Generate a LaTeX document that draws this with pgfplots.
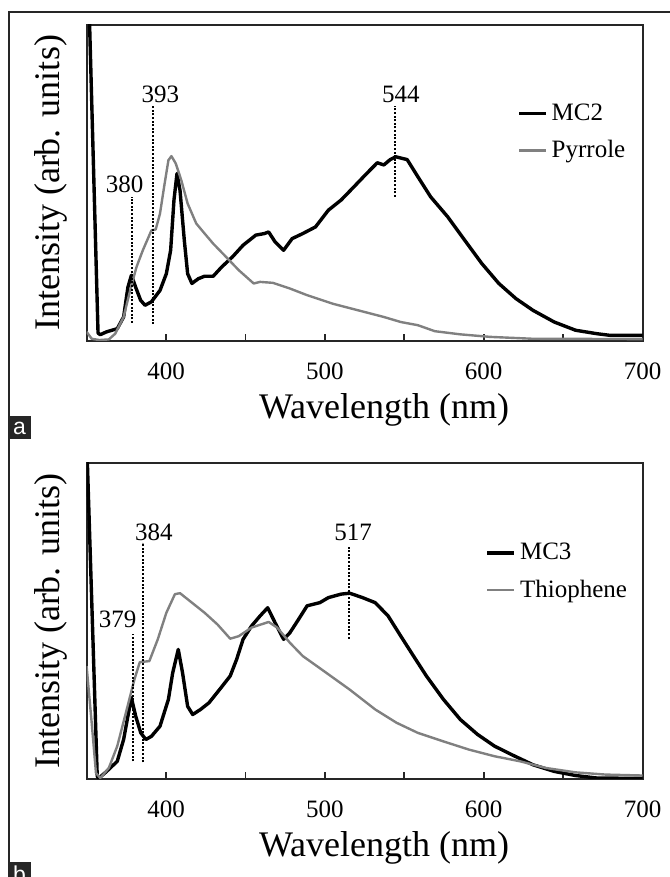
\documentclass[border=0pt]{standalone}
\usepackage{fontspec}
\setmainfont{Liberation Serif}
\newfontfamily\panelfont{Liberation Sans}
\usepackage{pgfplots}
\pgfplotsset{compat=1.18}
\definecolor{SGray}{HTML}{808080}
\definecolor{FrameC}{HTML}{262626}

\tikzset{annot/.style={font=\fontsize{12.5}{14}\selectfont}}
\pgfplotsset{
  spec/.style={
    scale only axis,
    width=278pt,height=158pt,
    xmin=350,xmax=700,ymin=0,ymax=100,
    axis line style={FrameC,line width=1pt},
    xtick={400,500,600,700},
    minor xtick={450,550,650},
    xtick pos=bottom,
    tick align=inside,
    major tick length=3.5pt,minor tick length=3.5pt,
    tick style={FrameC,line width=0.9pt},
    ytick=\empty,
    /pgf/number format/assume math mode=true,
    xticklabel style={font=\fontsize{12.5}{14}\selectfont,yshift=-7.5pt},
    xlabel={Wavelength (nm)},
    ylabel={Intensity (arb. units)},
    xlabel style={font=\fontsize{18}{20}\selectfont,at={(axis description cs:0.535,0)},anchor=center,yshift=-34.5pt},
    ylabel style={font=\fontsize{18}{20}\selectfont,at={(axis description cs:-0.064,0.5)},anchor=center},
    legend style={draw=none,fill=none,font=\fontsize{12.5}{14}\selectfont,
      row sep=4.5pt,inner sep=0pt},
    legend cell align=left,
    legend image code/.code={\draw[#1] (0pt,0pt) -- (13.5pt,0pt);},
    clip=true,
  },
  blk/.style={black,line width=1.7pt,line join=round},
  gry/.style={SGray,line width=1.2pt,line join=round},
  mark line/.style={black,line width=1pt,dash pattern=on 1pt off 0.8pt,forget plot},
}

\begin{document}
\begin{tikzpicture}
\useasboundingbox (0,0) rectangle (334.5pt,438.5pt);
% outer frame
\draw[FrameC,line width=1.3pt] (4.5pt,0pt) -- (4.5pt,432.5pt) -- (335pt,432.5pt);

% ---------- panel a ----------
\begin{axis}[spec,at={(43.3pt,268pt)},anchor=south west,
  legend style={at={(rel axis cs:0.774,0.765)},anchor=north west}]
\addplot[blk] coordinates {
(350.2,125)(351.9,100)(357.2,2.5)(358.6,2)(362.6,2.9)(369.3,3.9)(373.3,7.6)
(376,17)(378.2,20.8)(380.9,17)(384,12.9)(386.8,11.3)(390.8,12.4)(396.2,16)
(400.2,21.3)(402.9,28.7)(405,44.6)(406.9,53)(408.8,47.7)(411.5,31.9)(413.6,21.3)
(416.3,18.2)(420.3,19.7)(424.3,20.5)(429.7,20.5)(435,23.4)(441.8,26.6)(448.5,30.3)
(456.5,33.5)(461.9,34)(464.6,34.5)(468.6,31.4)(474,28.7)(479.4,32.4)(486.1,34)
(494.1,36.1)(502.2,41.4)(510.2,44.6)(518.3,48.8)(526.3,53)(533,56.4)(537.1,55.7)
(541.1,57.4)(544.6,58.3)(551.8,57.4)(558.5,52)(566.6,45.6)(577.3,39.3)(588,31.9)
(598.8,24.5)(609.5,18.2)(620.3,13.4)(631,9.7)(644.4,6)(657.8,3.4)(671.3,2.3)
(679.3,1.8)(700,1.8)};
\addlegendentry{MC2}
\addplot[gry] coordinates {
(350,2.9)(353.2,0.7)(358,0.3)(364,0.5)(368,2.3)(373.3,7.6)(377.4,16)(381.4,23.4)
(385.4,28.7)(390.8,35)(393.5,35.3)(396.2,40.3)(398.8,48.8)(401.5,57.2)(403.4,58.5)
(406.1,56.2)(409.6,50.9)(413.6,43.5)(419,37.2)(424.3,34)(429.7,30.8)(437.8,26.6)
(445.8,22.4)(455.2,18.2)(459.2,18.7)(467.3,18.4)(478,16.6)(488.8,14.5)(504.9,11.8)
(521,9.7)(537.1,7.6)(547.8,6)(558.5,5)(569.2,3.1)(585.3,2.1)(604.1,1.3)(631,0.7)
(700,0.6)};
\addlegendentry{Pyrrole}
\addplot[mark line] coordinates {(378.7,5.7)(378.7,45.6)};
\addplot[mark line] coordinates {(391.6,5.3)(391.6,74.3)};
\addplot[mark line] coordinates {(544.3,45.6)(544.3,74.3)};
\node[annot] at (axis cs:373.9,49.5) {380};
\node[annot] at (axis cs:396.4,78) {393};
\node[annot] at (axis cs:547.8,78) {544};
\end{axis}

% ---------- panel b ----------
\begin{axis}[spec,at={(43.3pt,49pt)},anchor=south west,
  legend style={at={(rel axis cs:0.717,0.76)},anchor=north west}]
\addplot[blk] coordinates {
(350.2,102)(350.5,100)(356.7,0.8)(357.8,0.3)(362.6,2.4)(369.3,5.6)(373.3,12.5)
(376,19.9)(378.2,25.7)(380.9,19.9)(384.1,14.6)(387.3,12.5)(390.8,13.5)(396.2,16.7)
(401.5,25.2)(404.2,33.6)(407.7,41)(410.4,33.6)(413.6,23)(416.8,20.4)(421.7,22)
(427,24.1)(433.7,28.3)(440.4,32.6)(444.4,37.8)(448.5,44.2)(453.8,48.4)(459.2,51.6)
(464,54.2)(468.6,49.5)(474,44.2)(478,46.3)(483.4,50.5)(488.8,54.8)(496.8,55.8)
(502.2,57.4)(510.2,58.5)(515.6,58.8)(523.7,57.4)(531.7,55.8)(539.8,51.6)(547.8,45.2)
(555.8,38.9)(563.9,32.6)(574.6,25.2)(585.3,18.8)(596.1,14.1)(606.8,10.4)(617.6,7.7)
(631,4.5)(644.4,2.4)(657.8,1.1)(671.3,0.3)(700,0.2)};
\addlegendentry{MC3}
\addplot[gry] coordinates {
(350,35.7)(353.2,17.8)(355.9,1.9)(358.6,0.3)(364,3.5)(369.3,10.4)(374.7,20.9)
(380.1,31.5)(383.5,37)(389.5,37.3)(394.8,44.2)(400.2,52.6)(405.6,58.5)(408.8,58.8)
(416.3,55.8)(424.3,52.6)(432.4,48.9)(440.4,44.4)(445.8,45.2)(453.8,47.9)(464.6,49.7)
(470,47.9)(478,43.1)(486.1,38.9)(499.5,34.1)(515.6,28.3)(531.7,22)(545.1,17.8)
(558.5,14.6)(574.6,11.9)(590.7,9.3)(606.8,7.2)(622.9,5.6)(639,3.5)(657.8,2.1)
(676.6,1.4)(700,1.1)};
\addlegendentry{Thiophene}
\addplot[mark line] coordinates {(379.5,5.6)(379.5,45.8)};
\addplot[mark line] coordinates {(385.7,5.3)(385.7,74.8)};
\addplot[mark line] coordinates {(515,44.4)(515,73.3)};
\node[annot] at (axis cs:369.6,50.5) {379};
\node[annot] at (axis cs:392.4,78) {384};
\node[annot] at (axis cs:517.7,78) {517};
\end{axis}

% panel letters
\fill[FrameC] (4pt,219pt) rectangle (15.5pt,230.5pt);
\node[white,font=\panelfont\fontsize{11.5}{13}\selectfont] at (9.75pt,224.5pt) {a};
\begin{scope}
\clip (0,0) rectangle (334.5pt,438.5pt);
\fill[FrameC] (4pt,-5pt) rectangle (15.5pt,7.5pt);
\node[white,font=\panelfont\fontsize{11.5}{13}\selectfont] at (9.75pt,1.5pt) {b};
\end{scope}
\end{tikzpicture}
\end{document}
